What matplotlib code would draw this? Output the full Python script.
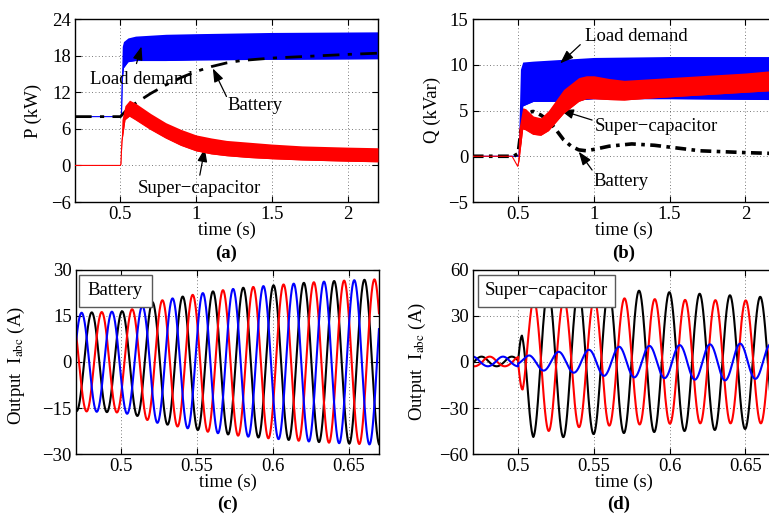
import numpy as np
import matplotlib
matplotlib.use("Agg")
import matplotlib.pyplot as plt
from matplotlib.patches import Rectangle

plt.rcParams['font.family'] = ['Liberation Serif', 'DejaVu Serif']
plt.rcParams['mathtext.fontset'] = 'stix'
plt.rcParams['font.size'] = 13.5
plt.rcParams['axes.unicode_minus'] = True

# ---------------- (a) active power (kW), band = fast ripple envelope ----------------
pa_load_t  = [0.2, 0.5, 0.503, 0.507, 0.512, 0.52, 0.55, 0.6, 0.8, 1.0, 1.5, 2.2]
pa_load_hi = [8, 8, 8.3, 14, 19.5, 20.3, 20.9, 21.2, 21.5, 21.6, 21.8, 21.9]
pa_load_lo = [8, 8, 8, 8.5, 14, 16, 17, 17.2, 17.2, 17.3, 17.4, 17.5]

pa_sc_t  = [0.2, 0.5, 0.503, 0.51, 0.53, 0.56, 0.6, 0.7, 0.8, 0.9, 1.0, 1.1, 1.2, 1.35, 1.5, 1.7, 2.0, 2.2]
pa_sc_hi = [0, 0, 2, 7.5, 9.8, 10.7, 10.2, 8.5, 7.0, 5.9, 5.0, 4.5, 4.1, 3.8, 3.5, 3.2, 3.0, 2.9]
pa_sc_lo = [0, 0, 0.3, 4, 7.5, 8.1, 7.5, 5.9, 4.5, 3.3, 2.4, 1.9, 1.6, 1.3, 1.1, 0.9, 0.7, 0.6]

pa_bat_t = [0.2, 0.5, 0.55, 0.6, 0.7, 0.8, 0.9, 1.0, 1.1, 1.2, 1.3, 1.5, 1.75, 2.0, 2.2]
pa_bat   = [8, 8, 9.3, 10.2, 11.8, 13.2, 14.4, 15.4, 16.2, 16.8, 17.2, 17.6, 17.9, 18.2, 18.4]

# ---------------- (b) reactive power (kVar) ----------------
qb_load_t  = [0.2, 0.5, 0.505, 0.515, 0.53, 0.6, 0.8, 1.0, 1.5, 2.2]
qb_load_hi = [0, 0, 3, 9.5, 10.3, 10.4, 10.6, 10.8, 10.9, 10.9]
qb_load_lo = [0, 0, 0, 2, 5.5, 6.0, 6.0, 6.3, 6.3, 6.2]

qb_sc_t  = [0.2, 0.46, 0.497, 0.505, 0.53, 0.55, 0.6, 0.65, 0.7, 0.8, 0.9, 0.95, 1.0, 1.1, 1.2, 1.4, 1.7, 2.0, 2.2]
qb_sc_hi = [0, 0, -1.1, 3, 5.3, 5.2, 4.4, 4.2, 5.0, 7.3, 8.6, 8.8, 8.8, 8.5, 8.3, 8.5, 8.8, 9.1, 9.4]
qb_sc_lo = [0, 0, -1.1, -0.5, 3.0, 2.9, 2.4, 2.3, 2.8, 4.7, 6.0, 6.3, 6.3, 6.2, 6.15, 6.4, 6.7, 7.0, 7.2]

qb_bat_t = [0.2, 0.47, 0.5, 0.52, 0.56, 0.6, 0.65, 0.7, 0.75, 0.8, 0.85, 0.9, 0.95, 1.0, 1.1, 1.25, 1.4, 1.5, 1.7, 2.0, 2.2]
qb_bat   = [0, 0, 0.3, 3.0, 4.8, 4.9, 4.5, 3.9, 2.9, 1.8, 1.1, 0.7, 0.6, 0.75, 1.1, 1.35, 1.2, 1.0, 0.6, 0.4, 0.3]

# ---------------- (c) battery phase currents (A), 50 Hz ----------------
freq = 50.0
ic_peak = {'k': 0.4804, 'r': 0.4870, 'b': 0.4737}   # time of a positive peak
ic_env_t = [0.47, 0.5, 0.51, 0.52, 0.54, 0.56, 0.58, 0.60, 0.62, 0.64, 0.67]
ic_env   = [16, 16.5, 17.5, 19.5, 21.3, 23, 24.2, 25, 25.8, 26.4, 27]

# ---------------- (d) super-capacitor phase currents (A) ----------------
id_pre_peak = {'k': 0.4758, 'r': 0.4812, 'b': 0.4700}
id_pre_up, id_pre_lo = 3.5, 2.8
id_post_peak = {'k': 0.5798, 'r': 0.5702, 'b': 0.5866}

id_k_t  = [0.5, 0.5025, 0.506, 0.51, 0.53, 0.55, 0.58, 0.61, 0.64, 0.67]
id_k_up = [1, 26, 40, 47, 47, 47, 46.5, 45, 43.5, 42]
id_k_lo = [1, 20, 40, 49, 49, 47, 46, 45, 44, 43]

id_r_t  = [0.5, 0.503, 0.506, 0.51, 0.52, 0.54, 0.57, 0.61, 0.67]
id_r_up = [1, 10, 35, 41, 41, 41, 41.5, 40.5, 40]
id_r_lo = [1, 28, 40, 44, 45, 42.5, 41, 40, 40]

id_b_t  = [0.5, 0.5077, 0.5175, 0.527, 0.537, 0.547, 0.556, 0.567, 0.576, 0.586, 0.596, 0.606, 0.616, 0.626, 0.636, 0.646, 0.656, 0.67]
id_b_up = [2, 4.5, 5.5, 6.7, 7.3, 8, 9, 10, 10, 10.5, 10.8, 11, 11.3, 11.5, 11.8, 12, 11.5, 11.5]
id_b_lo = [2, 4.5, 5.7, 6.5, 7, 8, 9, 9.5, 10, 10.5, 10.5, 11, 11.5, 11.8, 12, 12, 11, 11]

BLUE, RED = (0, 0, 1), (1, 0, 0)


def wave(t, t_pk, env_t, up, lo):
    # sinusoid with separate envelopes for the positive and negative half waves
    c = np.cos(2 * np.pi * freq * (t - t_pk))
    a_up = np.interp(t, env_t, up)
    a_lo = np.interp(t, env_t, lo)
    return np.where(c > 0, a_up * c, a_lo * c)


def style(ax, xlim, ylim, xticks, yticks):
    ax.set_xlim(xlim)
    ax.set_ylim(ylim)
    ax.set_xticks(xticks)
    ax.set_yticks(yticks)
    ax.set_xticklabels(['%g' % v for v in xticks])
    ax.tick_params(direction='in', top=True, right=True, length=4, width=0.8, pad=3)
    ax.grid(True, linestyle=(0, (1, 3)), color='k', linewidth=0.6, alpha=0.7)
    for s in ax.spines.values():
        s.set_linewidth(1.0)
    ax.set_xlabel('time (s)', labelpad=-1)


def arrow(ax, head, tail):
    ax.annotate('', xy=head, xytext=tail,
                arrowprops=dict(arrowstyle='-|>,head_length=0.6,head_width=0.22',
                                color='k', lw=0.9, shrinkA=0, shrinkB=0))


fig = plt.figure(figsize=(7.69, 5.13), dpi=100)
ax_a = fig.add_axes([0.0975, 0.6062, 0.394, 0.3567])
ax_b = fig.add_axes([0.6147, 0.6062, 0.394, 0.3567])
ax_c = fig.add_axes([0.0988, 0.115, 0.394, 0.3587])
ax_d = fig.add_axes([0.6147, 0.115, 0.394, 0.3587])

# (a)
ax = ax_a
ax.fill_between(pa_load_t, pa_load_lo, pa_load_hi, color=BLUE, lw=0, zorder=2)
ax.plot(pa_load_t, pa_load_lo, color=BLUE, lw=0.8, zorder=2)
ax.plot(pa_bat_t, pa_bat, color='k', lw=2, ls=(0, (6, 3, 1.5, 3)), zorder=3)
ax.fill_between(pa_sc_t, pa_sc_lo, pa_sc_hi, color=RED, lw=0, zorder=4)
ax.plot(pa_sc_t, pa_sc_lo, color=RED, lw=0.8, zorder=4)
style(ax, (0.2, 2.2), (-6, 24), [0.5, 1, 1.5, 2], [-6, 0, 6, 12, 18, 24])
ax.text(0.64, 14.1, 'Load demand', ha='center', va='center')
arrow(ax, (0.639, 19.5), (0.606, 16.7))
ax.text(1.39, 9.9, 'Battery', ha='center', va='center')
arrow(ax, (1.11, 15.9), (1.20, 11.3))
ax.text(1.02, -3.75, 'Super\u2212capacitor', ha='center', va='center')
arrow(ax, (1.057, 2.8), (1.024, -1.6))

# (b)
ax = ax_b
ax.fill_between(qb_load_t, qb_load_lo, qb_load_hi, color=BLUE, lw=0, zorder=2)
ax.plot(qb_load_t, qb_load_lo, color=BLUE, lw=0.8, zorder=2)
ax.plot(qb_bat_t, qb_bat, color='k', lw=2.6, ls=(0, (3, 1.5, 1, 1.5)), zorder=3)
ax.fill_between(qb_sc_t, qb_sc_lo, qb_sc_hi, color=RED, lw=0, zorder=4)
ax.plot(qb_sc_t, qb_sc_lo, color=RED, lw=0.8, zorder=4)
style(ax, (0.2, 2.2), (-5, 15), [0.5, 1, 1.5, 2], [-5, 0, 5, 10, 15])
ax.text(1.28, 13.07, 'Load demand', ha='center', va='center')
arrow(ax, (0.777, 10.15), (0.91, 12.2))
ax.text(1.41, 3.23, 'Super\u2212capacitor', ha='center', va='center')
arrow(ax, (0.777, 5.05), (0.988, 3.96))
ax.text(1.18, -2.8, 'Battery', ha='center', va='center')
arrow(ax, (0.90, 0.5), (0.988, -1.5))

# (c)
ax = ax_c
t = np.linspace(0.47, 0.67, 4000)
for ph, col in (('k', 'k'), ('r', RED), ('b', BLUE)):
    ax.plot(t, wave(t, ic_peak[ph], ic_env_t, ic_env, ic_env), color=col, lw=1.5)
style(ax, (0.47, 0.67), (-30, 30), [0.5, 0.55, 0.6, 0.65], [-30, -15, 0, 15, 30])
ax.add_patch(Rectangle((0.01, 0.80), 0.24, 0.175, transform=ax.transAxes,
                       facecolor='w', edgecolor='0.35', lw=1, zorder=5))
ax.text(0.13, 0.887, 'Battery', transform=ax.transAxes, ha='center', va='center', zorder=6)

# (d)
ax = ax_d
t_pre = np.linspace(0.47, 0.5, 600)
t_post = np.linspace(0.5, 0.67, 3400)
post = {'k': (id_k_t, id_k_up, id_k_lo), 'r': (id_r_t, id_r_up, id_r_lo),
        'b': (id_b_t, id_b_up, id_b_lo)}
for ph, col in (('k', 'k'), ('r', RED), ('b', BLUE)):
    y_pre = wave(t_pre, id_pre_peak[ph], [0.47, 0.5], [id_pre_up] * 2, [id_pre_lo] * 2)
    et, eu, el = post[ph]
    y_post = wave(t_post, id_post_peak[ph], et, eu, el)
    ax.plot(np.r_[t_pre, t_post], np.r_[y_pre, y_post], color=col, lw=1.5)
style(ax, (0.47, 0.67), (-60, 60), [0.5, 0.55, 0.6, 0.65], [-60, -30, 0, 30, 60])
ax.add_patch(Rectangle((0.0175, 0.80), 0.452, 0.175, transform=ax.transAxes,
                       facecolor='w', edgecolor='0.35', lw=1, zorder=5))
ax.text(0.243, 0.887, 'Super\u2212capacitor', transform=ax.transAxes, ha='center', va='center', zorder=6)

# y labels and panel tags
H = 513.0
fig.text(33 / 769, 1 - 111 / H, 'P (kW)', rotation=90, ha='center', va='center')
fig.text(432 / 769, 1 - 110 / H, 'Q (kVar)', rotation=90, ha='center', va='center')
fig.text(16 / 769, 1 - 366 / H, 'Output  I$_{\\mathrm{abc}}$ (A)', rotation=90, ha='center', va='center')
fig.text(417 / 769, 1 - 362 / H, 'Output  I$_{\\mathrm{abc}}$ (A)', rotation=90, ha='center', va='center')
for x, y, s in ((226, 253, '(a)'), (624, 253, '(b)'), (227, 504, '(c)'), (619, 504, '(d)')):
    fig.text(x / 769, 1 - y / H, s, ha='center', va='center', fontweight='bold')

fig.savefig('out.png', dpi=100)
